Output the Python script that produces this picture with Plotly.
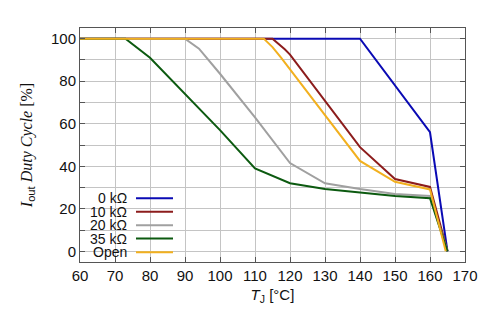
import plotly.graph_objects as go

# Data
t_0k = [60, 140, 160, 165]
d_0k = [100, 100, 56, 0]

t_10k = [60, 115, 118.5, 120, 140, 150, 160, 165]
d_10k = [100, 100, 95, 92.5, 49, 34, 30.3, 0]

t_20k = [60, 90, 94, 100, 110, 120, 130, 140, 150, 160, 165]
d_20k = [100, 100, 95.3, 83.5, 63, 41.5, 32, 29.3, 27, 26, 0]

t_35k = [60, 73, 80, 90, 100, 110, 120, 130, 140, 150, 160, 165]
d_35k = [100, 100, 91, 74, 57, 39, 32, 29.3, 27.5, 26, 25, 0]

t_open = [60, 112.5, 115, 117.5, 140, 150, 160, 164.5]
d_open = [100, 100, 96, 91, 42.5, 32.7, 29.1, 0]

names = ["0 k\u03a9", "10 k\u03a9", "20 k\u03a9", "35 k\u03a9", "Open"]
colors = ["#0a0ab4", "#8c1c1c", "#a0a0a0", "#0c5a10", "#f2b01e"]
series = [(t_0k, d_0k), (t_10k, d_10k), (t_20k, d_20k), (t_35k, d_35k), (t_open, d_open)]

x_ticks = list(range(60, 171, 10))
y_ticks = list(range(0, 101, 20))

fig = go.Figure()
for i in range(len(series)):
    t, d = series[i]
    fig.add_trace(go.Scatter(x=t, y=d, mode="lines", name=names[i],
                             line=dict(color=colors[i], width=2), showlegend=False))

# custom legend (text right, sample line on the right side) in paper coords
L, R, T, B = 80, 465, 28, 262
W, H = 500, 322
def px(xp):
    return (xp - L) / (R - L)
def py(yp):
    return (B - yp) / (B - T)

row_y = [198.3, 211.7, 225.2, 238.6, 252.2]
for i, name in enumerate(names):
    fig.add_annotation(x=px(128), y=py(row_y[i]), xref="paper", yref="paper",
                       text=name, showarrow=False, xanchor="right", yanchor="middle",
                       borderpad=0,
                       font=dict(family="Liberation Sans, Arial", size=14, color="#111"))
    fig.add_shape(type="line", xref="paper", yref="paper",
                  x0=px(136), x1=px(173), y0=py(row_y[i]), y1=py(row_y[i]),
                  line=dict(color=colors[i], width=2))

axis_common = dict(
    showline=True, linecolor="#555", linewidth=1, mirror="ticks",
    ticks="inside", ticklen=5, tickcolor="#555",
    gridcolor="#c4c4c4", gridwidth=1, zeroline=False,
    tickfont=dict(family="Liberation Sans, Arial", size=15, color="#111"),
)

fig.update_xaxes(range=[60, 170], tickvals=x_ticks, **axis_common,
                 title=dict(text="<i>T</i><sub>J</sub> [°C]",
                            font=dict(family="Liberation Sans, Arial", size=15, color="#111"),
                            standoff=6))
fig.update_yaxes(range=[-5, 105], tickvals=y_ticks, **axis_common,
                 minor=dict(tickvals=list(range(10, 101, 20)), showgrid=True,
                            gridcolor="#c4c4c4", ticks="inside", ticklen=5, tickcolor="#555"),
                 title=dict(text="<i>I</i><sub><span style='font-family:Liberation Sans'>out</span></sub> <i>Duty Cycle</i> [%]",
                            font=dict(family="Liberation Serif, Times New Roman", size=16, color="#111"),
                            standoff=14))

fig.update_layout(width=W, height=H, margin=dict(l=L, r=W - R, t=T, b=H - B),
                  plot_bgcolor="white", paper_bgcolor="white")

fig.write_html("out.html")
